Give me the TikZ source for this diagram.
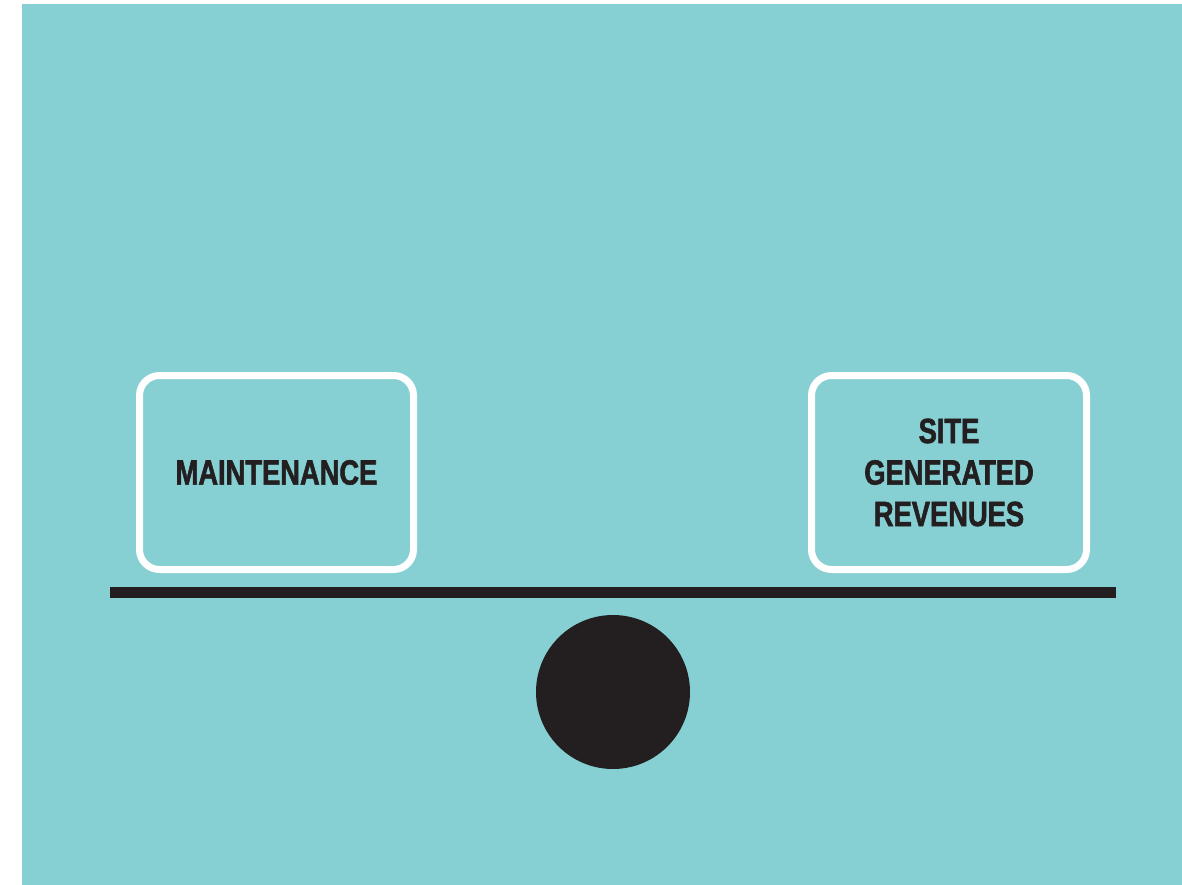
\documentclass[tikz,border=0pt]{standalone}
\usepackage{fontspec}
\newfontfamily\labelfont[FakeStretch=0.78,FakeBold=1.6]{Liberation Sans}
\definecolor{teal}{HTML}{86D0D4}
\definecolor{ink}{HTML}{231F20}
\tikzset{
  panel/.style={draw=white, line width=7pt, rounded corners=20pt,
    minimum height=194pt, align=center, text=ink,
    font=\labelfont\bfseries\fontsize{35}{41.5}\selectfont}
}
\begin{document}
\begin{tikzpicture}[x=1pt,y=-1pt]
\useasboundingbox (0,0) rectangle (1182,885);
\fill[white] (0,0) rectangle (1182,885);
\fill[teal] (22,4) rectangle (1182,885);
\node[panel, minimum width=274pt] (maint) at (276.5,472.5) {MAINTENANCE};
\node[panel, minimum width=275pt] (rev) at (949,472.5) {SITE\\GENERATED\\REVENUES};
\fill[ink] (110,587) rectangle (1116,598);
\fill[ink] (613,692) circle (77);
\end{tikzpicture}
\end{document}
